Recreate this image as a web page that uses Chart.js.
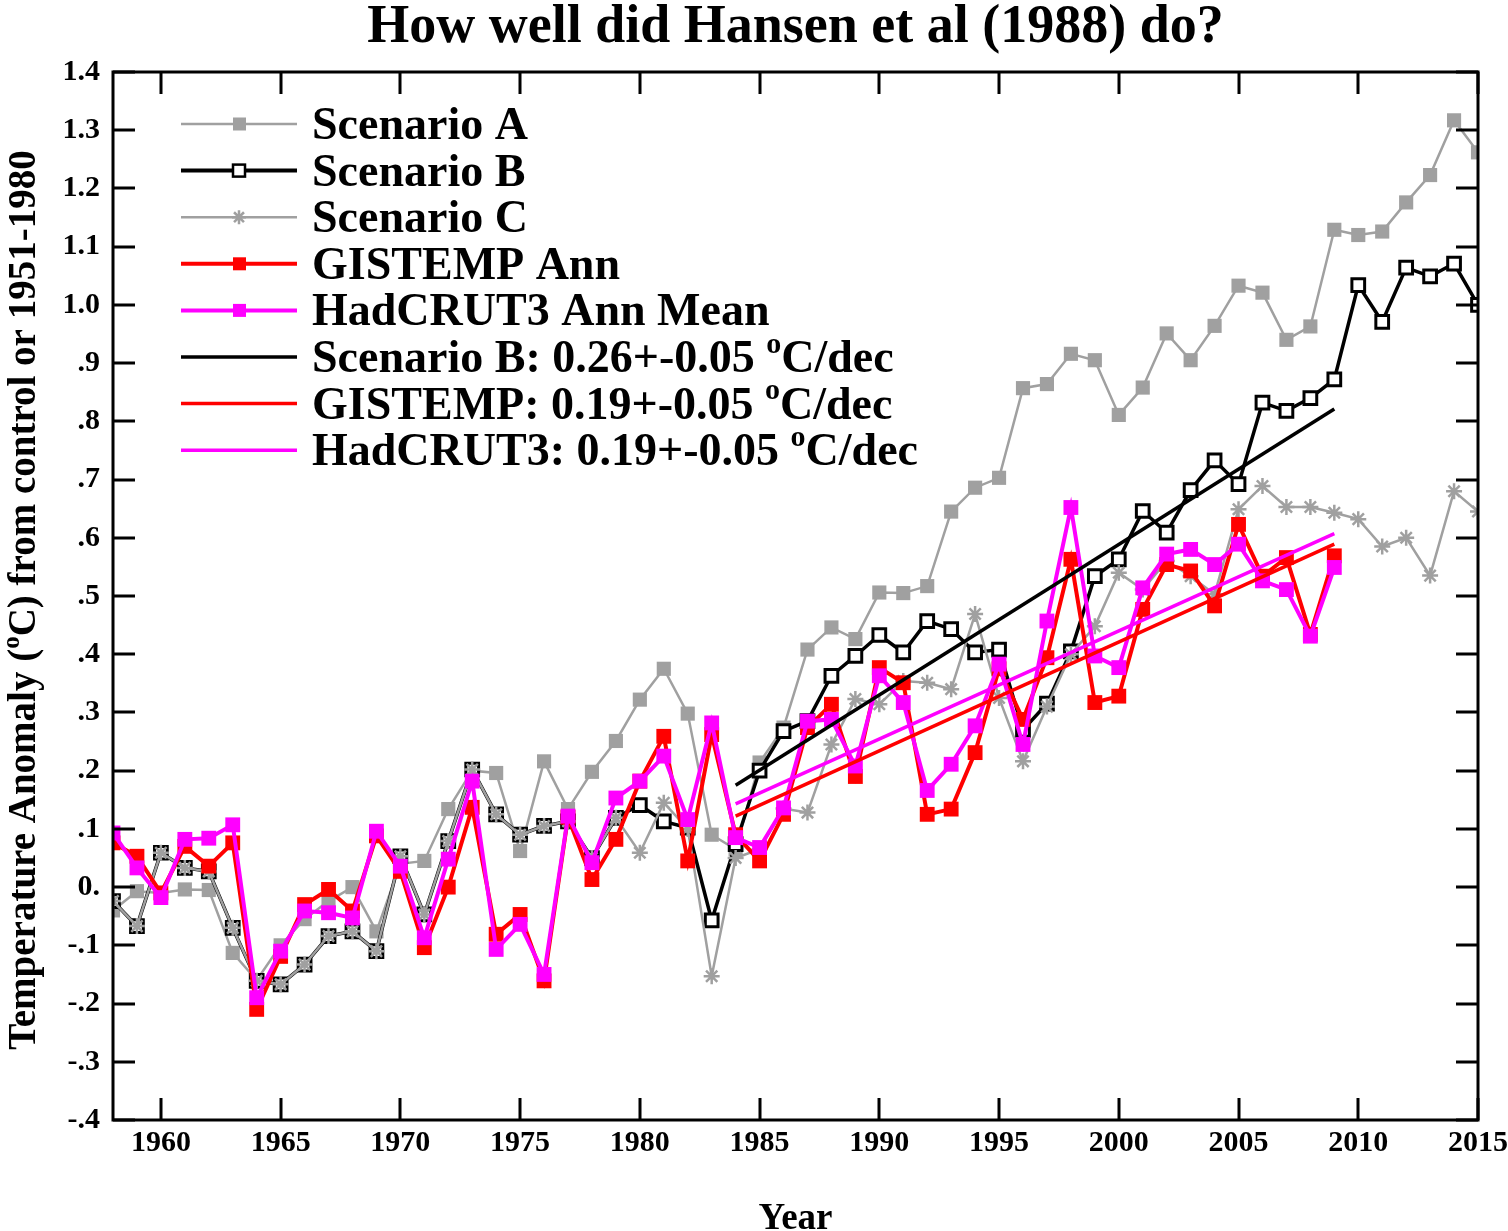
<!DOCTYPE html>
<html>
<head>
<meta charset="utf-8">
<title>How well did Hansen et al (1988) do?</title>
<script src="https://cdn.jsdelivr.net/npm/chart.js@4.4.1/dist/chart.umd.min.js"></script>
<style>
  html, body { margin: 0; padding: 0; background: #fff; }
  #wrap { width: 1508px; height: 1231px; }
</style>
</head>
<body>
<div id="wrap"><canvas id="c" width="1508" height="1231"></canvas></div>
<script>
// model scenario years and observation years
var scenarioYears = [1958,1959,1960,1961,1962,1963,1964,1965,1966,1967,1968,1969,1970,1971,1972,1973,1974,1975,1976,1977,
  1978,1979,1980,1981,1982,1983,1984,1985,1986,1987,1988,1989,1990,1991,1992,1993,1994,1995,1996,1997,
  1998,1999,2000,2001,2002,2003,2004,2005,2006,2007,2008,2009,2010,2011,2012,2013,2014,2015];
var obsYears = [1958,1959,1960,1961,1962,1963,1964,1965,1966,1967,1968,1969,1970,1971,1972,1973,1974,1975,1976,1977,
  1978,1979,1980,1981,1982,1983,1984,1985,1986,1987,1988,1989,1990,1991,1992,1993,1994,1995,1996,1997,
  1998,1999,2000,2001,2002,2003,2004,2005,2006,2007,2008,2009];

var scenarioA = [-0.04,-0.007,-0.01,-0.004,-0.005,-0.113,-0.16,-0.10,-0.055,-0.024,0.0,-0.076,0.04,0.045,0.134,0.20,0.196,0.062,0.216,0.134,
  0.198,0.251,0.322,0.375,0.298,0.09,0.065,0.214,0.274,0.408,0.446,0.426,0.506,0.505,0.517,0.645,0.686,0.703,0.857,0.864,
  0.916,0.905,0.811,0.858,0.951,0.905,0.964,1.033,1.021,0.94,0.963,1.129,1.12,1.126,1.176,1.223,1.317,1.262];
var scenarioB = [-0.024,-0.067,0.059,0.033,0.027,-0.07,-0.161,-0.167,-0.133,-0.084,-0.076,-0.11,0.053,-0.047,0.079,0.202,0.125,0.09,0.105,0.113,
  0.05,0.119,0.141,0.113,0.102,-0.057,0.074,0.2,0.268,0.285,0.363,0.397,0.433,0.403,0.457,0.443,0.403,0.408,0.27,0.315,
  0.405,0.534,0.563,0.646,0.609,0.682,0.733,0.692,0.832,0.818,0.84,0.872,1.034,0.971,1.064,1.049,1.071,1.0];
var scenarioC = [-0.024,-0.067,0.059,0.033,0.027,-0.07,-0.161,-0.167,-0.133,-0.084,-0.076,-0.11,0.053,-0.047,0.079,0.202,0.125,0.09,0.105,0.113,
  0.05,0.119,0.059,0.145,0.10,-0.153,0.05,0.065,0.135,0.128,0.245,0.323,0.314,0.354,0.351,0.34,0.469,0.325,0.216,0.31,
  0.40,0.448,0.54,0.511,0.56,0.534,0.503,0.649,0.689,0.653,0.653,0.643,0.632,0.585,0.60,0.535,0.68,0.645];
var gistemp = [0.076,0.053,-0.01,0.07,0.036,0.076,-0.21,-0.119,-0.03,-0.004,-0.041,0.088,0.027,-0.104,0.0,0.137,-0.081,-0.047,-0.161,0.12,
  0.013,0.082,0.182,0.259,0.045,0.262,0.09,0.045,0.125,0.274,0.314,0.19,0.377,0.351,0.125,0.134,0.231,0.375,0.288,0.394,
  0.563,0.317,0.328,0.477,0.554,0.543,0.483,0.623,0.534,0.566,0.434,0.569];
var hadcrut = [0.093,0.033,-0.018,0.082,0.084,0.107,-0.19,-0.11,-0.041,-0.044,-0.053,0.096,0.036,-0.087,0.048,0.182,-0.107,-0.064,-0.15,0.122,
  0.042,0.153,0.182,0.225,0.116,0.282,0.085,0.068,0.136,0.285,0.288,0.208,0.363,0.317,0.166,0.211,0.277,0.383,0.245,0.457,
  0.652,0.397,0.377,0.514,0.572,0.58,0.554,0.589,0.526,0.511,0.431,0.549];

// fitted trend lines (end points)
var trendYears = [1984, 2009];
var trendB = [0.175, 0.821];
var trendGiss = [0.122, 0.589];
var trendHad = [0.143, 0.607];

var xTicks = [1960,1965,1970,1975,1980,1985,1990,1995,2000,2005,2010,2015];
var yTicks = [-0.4,-0.3,-0.2,-0.1,0,0.1,0.2,0.3,0.4,0.5,0.6,0.7,0.8,0.9,1.0,1.1,1.2,1.3,1.4];
var yTickLabels = ['-.4','-.3','-.2','-.1','0.','.1','.2','.3','.4','.5','.6','.7','.8','.9','1.0','1.1','1.2','1.3','1.4'];

var GRAY = '#a0a0a0';
var FONT = "'Liberation Serif', 'Times New Roman', serif";

function pts(xs, ys) {
  return ys.map(function (v, i) { return {x: xs[i], y: v}; });
}

// draw text made of plain/superscript pieces
function richWidth(ctx, parts, size) {
  var w = 0;
  parts.forEach(function (p) {
    ctx.font = 'bold ' + (p.sup ? Math.round(size * 0.65) : size) + 'px ' + FONT;
    w += ctx.measureText(p.t).width;
  });
  return w;
}
function drawRich(ctx, parts, x, y, size) {
  ctx.textAlign = 'left';
  ctx.textBaseline = 'alphabetic';
  parts.forEach(function (p) {
    ctx.font = 'bold ' + (p.sup ? Math.round(size * 0.65) : size) + 'px ' + FONT;
    ctx.fillText(p.t, x, p.sup ? y - size * 0.42 : y);
    x += ctx.measureText(p.t).width;
  });
}

var legendItems = [
  {parts: [{t: 'Scenario A'}], color: GRAY, lw: 2.5, mark: 'fill'},
  {parts: [{t: 'Scenario B'}], color: '#000', lw: 4, mark: 'open'},
  {parts: [{t: 'Scenario C'}], color: GRAY, lw: 2.5, mark: 'star'},
  {parts: [{t: 'GISTEMP Ann'}], color: '#ff0000', lw: 4, mark: 'fill'},
  {parts: [{t: 'HadCRUT3 Ann Mean'}], color: '#ff00ff', lw: 4, mark: 'fill'},
  {parts: [{t: 'Scenario B: 0.26+-0.05 '}, {t: 'o', sup: true}, {t: 'C/dec'}], color: '#000', lw: 3.5},
  {parts: [{t: 'GISTEMP: 0.19+-0.05 '}, {t: 'o', sup: true}, {t: 'C/dec'}], color: '#ff0000', lw: 3.5},
  {parts: [{t: 'HadCRUT3: 0.19+-0.05 '}, {t: 'o', sup: true}, {t: 'C/dec'}], color: '#ff00ff', lw: 3.5}
];

var decor = {
  id: 'decor',
  afterDatasetsDraw: function (chart) {
    var ctx = chart.ctx, a = chart.chartArea;
    var xs = chart.scales.x, ys = chart.scales.y;
    ctx.save();
    ctx.strokeStyle = '#000';
    ctx.lineWidth = 3;
    ctx.beginPath();
    xTicks.forEach(function (v) {
      var px = Math.round(xs.getPixelForValue(v));
      ctx.moveTo(px, a.bottom); ctx.lineTo(px, a.bottom - 22);
      ctx.moveTo(px, a.top); ctx.lineTo(px, a.top + 22);
    });
    yTicks.forEach(function (v) {
      var py = Math.round(ys.getPixelForValue(v));
      ctx.moveTo(a.left, py); ctx.lineTo(a.left + 22, py);
      ctx.moveTo(a.right, py); ctx.lineTo(a.right - 22, py);
    });
    ctx.stroke();
    ctx.strokeRect(a.left, a.top, a.right - a.left, a.bottom - a.top);

    // legend
    ctx.fillStyle = '#000';
    legendItems.forEach(function (it, i) {
      var ly = 124 + i * 46.6;
      ctx.strokeStyle = it.color;
      ctx.lineWidth = it.lw;
      ctx.beginPath();
      ctx.moveTo(181, ly); ctx.lineTo(297, ly);
      ctx.stroke();
      if (it.mark === 'fill') {
        ctx.fillStyle = it.color;
        ctx.fillRect(233, ly - 6.5, 13, 13);
      } else if (it.mark === 'open') {
        ctx.fillStyle = '#fff';
        ctx.fillRect(233, ly - 6, 12, 12);
        ctx.lineWidth = 2.5;
        ctx.strokeRect(233, ly - 6, 12, 12);
      } else if (it.mark === 'star') {
        ctx.lineWidth = 2.5;
        ctx.beginPath();
        for (var k = 0; k < 4; k++) {
          var ang = k * Math.PI / 4;
          ctx.moveTo(239 - 7 * Math.cos(ang), ly - 7 * Math.sin(ang));
          ctx.lineTo(239 + 7 * Math.cos(ang), ly + 7 * Math.sin(ang));
        }
        ctx.stroke();
      }
      ctx.fillStyle = '#000';
      drawRich(ctx, it.parts, 312, ly + 15, 46);
    });

    // title
    ctx.font = 'bold 54px ' + FONT;
    ctx.textAlign = 'center';
    ctx.textBaseline = 'alphabetic';
    ctx.fillText('How well did Hansen et al (1988) do?', (a.left + a.right) / 2, 42);

    // x title
    ctx.font = 'bold 37px ' + FONT;
    ctx.fillText('Year', (a.left + a.right) / 2, 1229);

    // y title
    var yParts = [{t: 'Temperature Anomaly ('}, {t: 'o', sup: true}, {t: 'C) from control or 1951-1980'}];
    var w = richWidth(ctx, yParts, 39);
    ctx.translate(35, (a.top + a.bottom) / 2 + 4);
    ctx.rotate(-Math.PI / 2);
    drawRich(ctx, yParts, -w / 2, 0, 39);
    ctx.restore();
  }
};

var datasets = [
  {label: 'Scenario A', data: pts(scenarioYears, scenarioA), borderColor: GRAY, backgroundColor: GRAY,
   borderWidth: 2.5, pointStyle: 'rect', pointRadius: 10, pointBorderWidth: 0, order: 8},
  {label: 'Scenario B', data: pts(scenarioYears, scenarioB), borderColor: '#000', backgroundColor: '#fff',
   borderWidth: 3.5, pointStyle: 'rect', pointRadius: 9, pointBorderWidth: 3, order: 7},
  {label: 'Scenario C', data: pts(scenarioYears, scenarioC), borderColor: GRAY, backgroundColor: GRAY,
   borderWidth: 2.5, pointStyle: 'star', pointRadius: 8, pointBorderWidth: 2.5, order: 6},
  {label: 'GISTEMP Ann', data: pts(obsYears, gistemp), borderColor: '#ff0000', backgroundColor: '#ff0000',
   borderWidth: 4, pointStyle: 'rect', pointRadius: 10.5, pointBorderWidth: 0, order: 5},
  {label: 'HadCRUT3 Ann Mean', data: pts(obsYears, hadcrut), borderColor: '#ff00ff', backgroundColor: '#ff00ff',
   borderWidth: 4, pointStyle: 'rect', pointRadius: 10.5, pointBorderWidth: 0, order: 4},
  {label: 'Scenario B trend', data: pts(trendYears, trendB), borderColor: '#000',
   borderWidth: 3.5, pointRadius: 0, order: 3},
  {label: 'GISTEMP trend', data: pts(trendYears, trendGiss), borderColor: '#ff0000',
   borderWidth: 3.5, pointRadius: 0, order: 2},
  {label: 'HadCRUT3 trend', data: pts(trendYears, trendHad), borderColor: '#ff00ff',
   borderWidth: 3.5, pointRadius: 0, order: 1}
];

new Chart(document.getElementById('c'), {
  type: 'line',
  data: {datasets: datasets},
  options: {
    responsive: false,
    animation: false,
    devicePixelRatio: 1,
    layout: {padding: {left: 0, top: 72, right: 30, bottom: 0}},
    elements: {line: {tension: 0}},
    plugins: {legend: {display: false}, tooltip: {enabled: false}},
    scales: {
      x: {
        type: 'linear', min: 1958, max: 2015,
        grid: {display: false, drawTicks: false},
        border: {display: false},
        afterBuildTicks: function (axis) { axis.ticks = xTicks.map(function (v) { return {value: v}; }); },
        afterFit: function (axis) { axis.height = 111; axis.paddingRight = 0; axis.paddingLeft = 0; },
        ticks: {autoSkip: false, maxRotation: 0, padding: 5, color: '#000',
          font: {family: FONT, size: 30, weight: 'bold'},
          callback: function (v) { return String(v); }}
      },
      y: {
        type: 'linear', min: -0.4, max: 1.4,
        grid: {display: false, drawTicks: false},
        border: {display: false},
        afterBuildTicks: function (axis) { axis.ticks = yTicks.map(function (v) { return {value: v}; }); },
        afterFit: function (axis) { axis.width = 113; },
        ticks: {autoSkip: false, padding: 13, color: '#000',
          font: {family: FONT, size: 30, weight: 'bold'},
          callback: function (v, i) { return yTickLabels[i]; }}
      }
    }
  },
  plugins: [decor]
});
</script>
</body>
</html>
